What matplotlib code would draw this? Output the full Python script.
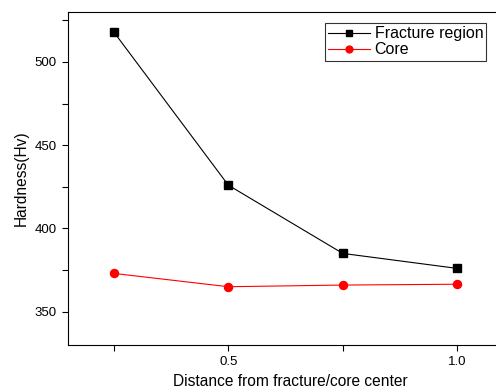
import matplotlib
matplotlib.use("Agg")
import matplotlib.pyplot as plt
from matplotlib.ticker import MultipleLocator, FormatStrFormatter

plt.rcParams['font.family'] = ['Liberation Sans', 'DejaVu Sans']

distance = [0.25, 0.5, 0.75, 1.0]
fracture = [518, 426, 385, 376]
core = [373, 365, 366, 366.5]

fig = plt.figure(figsize=(4.96, 3.9), dpi=100)
ax = fig.add_axes([68/496, 45/390, 445/496, 333/390])

ax.plot(distance, fracture, color='black', lw=0.8, marker='s', ms=5.2, label='Fracture region')
ax.plot(distance, core, color='red', lw=0.8, marker='o', ms=5.8, label='Core')

ax.set_xlim(0.15, 0.15 + 445/458)
ax.set_ylim(330, 530)
ax.xaxis.set_major_locator(MultipleLocator(0.5))
ax.xaxis.set_minor_locator(MultipleLocator(0.25))
ax.yaxis.set_major_locator(MultipleLocator(50))
ax.yaxis.set_minor_locator(MultipleLocator(25))
ax.tick_params(which='both', direction='out', labelsize=9.5, width=0.8, length=4.5)
ax.xaxis.set_major_formatter(FormatStrFormatter('%.1f'))
ax.spines['right'].set_visible(False)

ax.set_xlabel('Distance from fracture/core center', fontsize=11.2)
ax.set_ylabel('Hardness(Hv)', fontsize=11.2)

leg = ax.legend(loc='upper left', bbox_to_anchor=(325/496, 367/390), bbox_transform=fig.transFigure,
                fancybox=False, edgecolor='black', fontsize=11.5, handlelength=2.6, markerscale=0.85,
                borderaxespad=0, borderpad=0.2, labelspacing=0.08, handletextpad=0.3)
leg.get_frame().set_linewidth(0.8)

fig.savefig('out.png', dpi=100)
